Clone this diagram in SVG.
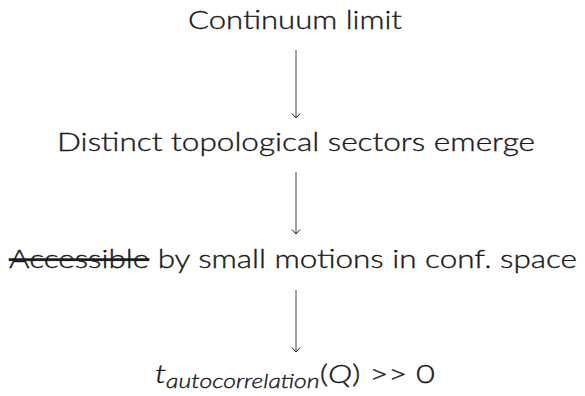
<svg xmlns="http://www.w3.org/2000/svg" width="585" height="396" viewBox="0 0 585 396">
<defs>
<marker id="ah" viewBox="0 0 10 10" refX="9" refY="5" markerWidth="10" markerHeight="10" markerUnits="userSpaceOnUse" orient="auto">
<path d="M4.5,1 L9,5 L4.5,9" fill="none" stroke="#222" stroke-width="1"/>
</marker>
<style>
.t{font-family:Lato,"Open Sans","Liberation Sans",sans-serif;font-size:25px;fill:#1a1a1a;font-weight:300;stroke:#1a1a1a;stroke-width:0.35}
.c{stroke:#444;stroke-width:1;fill:none}
</style>
</defs>
<rect width="585" height="396" fill="#fff"/>
<g id="n1"><text class="t" x="295" y="29" text-anchor="middle" textLength="214" lengthAdjust="spacingAndGlyphs">Continuum limit</text></g>
<g id="n2"><text class="t" x="296" y="151" text-anchor="middle" textLength="478" lengthAdjust="spacingAndGlyphs">Distinct topological sectors emerge</text></g>
<g id="n3"><text class="t" x="9" y="268" textLength="568" lengthAdjust="spacingAndGlyphs"><tspan text-decoration="line-through">Accessible</tspan> by small motions in conf. space</text></g>
<g id="n4"><text class="t" x="155" y="383" font-size="27" textLength="280" lengthAdjust="spacingAndGlyphs"><tspan font-style="italic">t</tspan><tspan font-style="italic" font-size="19" dy="5">autocorrelation</tspan><tspan dy="-5">(</tspan><tspan font-style="italic">Q</tspan><tspan>)  &gt;&gt;  0</tspan></text></g>
<g id="connectors">
<line class="c" x1="296" y1="50" x2="296" y2="118" marker-end="url(#ah)"/>
<line class="c" x1="296" y1="172" x2="296" y2="234" marker-end="url(#ah)"/>
<line class="c" x1="296" y1="290" x2="296" y2="352" marker-end="url(#ah)"/>
</g>
</svg>
